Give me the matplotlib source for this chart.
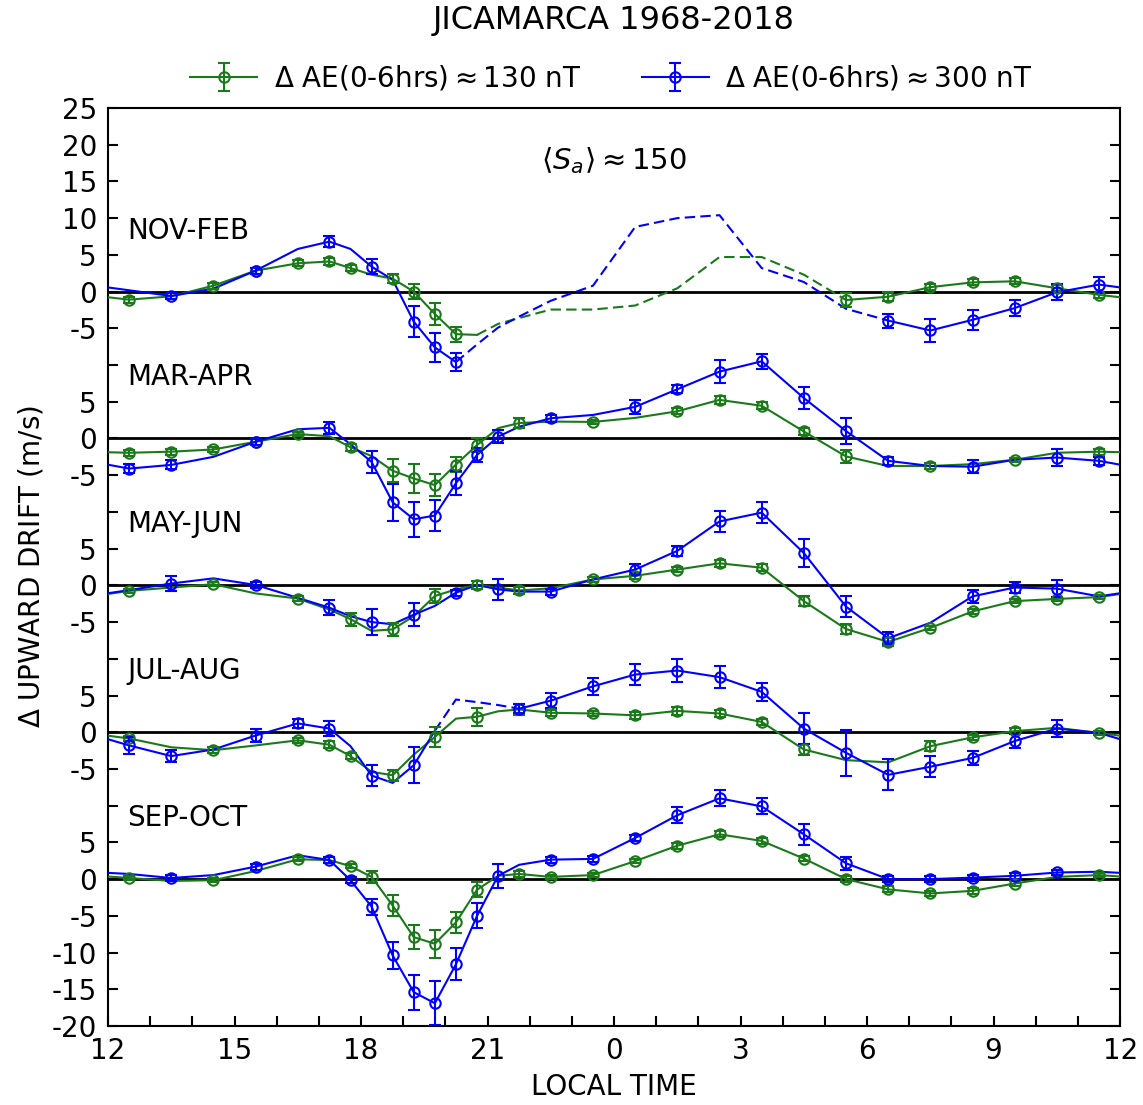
import matplotlib
matplotlib.use("Agg")
import matplotlib.pyplot as plt
import numpy as np

n = np.nan

# Local time of each bin (hours, 12 -> 36 = noon to next noon)
hours = [12.5, 13.5, 14.5, 15.5, 16.5, 17.25, 17.75, 18.25, 18.75, 19.25, 19.75, 20.25,
         20.75, 21.25, 21.75, 22.5, 23.5, 24.5, 25.5, 26.5, 27.5, 28.5, 29.5, 30.5,
         31.5, 32.5, 33.5, 34.5, 35.5]

seasons = ["NOV-FEB", "MAR-APR", "MAY-JUN", "JUL-AUG", "SEP-OCT"]
offsets = [80, 60, 40, 20, 0]

# Delta drift (m/s), green = dAE ~130 nT, blue = dAE ~300 nT. err nan -> no marker
nov_green = [-1.1, -0.65, 0.8, 2.85, 3.85, 4.1, 3.2, 2.3, 1.75, 0.0, -3.05, -5.8, -5.9, -4.4, -3.6,
             -2.45, -2.45, -1.9, 0.45, 4.7, 4.7, 2.3, -1.15, -0.7, 0.6, 1.25, 1.4, 0.45, -0.45]
nov_green_err = [0.4, n, 0.4, 0.4, 0.4, 0.5, 0.4, n, 0.6, 1.05, 1.55, 1.0, n, n, n,
                 n, n, n, n, n, n, n, 0.9, 0.6, 0.4, 0.4, 0.4, 0.4, 0.4]
nov_blue = [n, -0.6, 0.4, 2.85, 5.8, 6.8, 5.8, 3.4, 1.6, -4.1, -7.6, -9.6, -7.2, -4.9, -3.4,
            -1.25, 0.8, 8.8, 10.0, 10.4, 3.2, 1.3, -2.35, -3.95, -5.3, -3.85, -2.25, -0.1, 0.95]
nov_blue_err = [n, 0.4, n, 0.4, n, 0.8, n, 1.0, n, 2.1, 2.0, 1.2, n, n, n,
                n, n, n, n, n, n, n, n, 0.95, 1.5, 1.35, 1.1, 1.1, 1.0]

mar_green = [-1.95, -1.8, -1.5, -0.45, 0.6, 0.3, -1.2, -2.4, -4.4, -5.45, -6.35, -3.55, -0.9, 1.4, 2.1,
             2.3, 2.25, 2.8, 3.7, 5.25, 4.45, 0.95, -2.45, -3.75, -3.75, -3.5, -2.9, -1.95, -1.8]
mar_green_err = [0.4, 0.4, 0.3, 0.4, 0.3, n, 0.5, n, 1.55, 2.0, 1.55, 1.0, 0.9, n, 0.7,
                 n, 0.3, n, 0.4, 0.5, 0.5, 0.5, 0.9, n, 0.4, n, 0.3, n, 0.4]
mar_blue = [-4.1, -3.6, -2.5, -0.45, 1.25, 1.45, -0.8, -3.2, -8.7, -11.0, -10.5, -6.1, -2.25, 0.25, 1.6,
            2.75, 3.2, 4.3, 6.7, 9.1, 10.5, 5.5, 1.0, -3.05, -3.75, -3.85, -2.9, -2.6, -3.05]
mar_blue_err = [0.6, 0.6, n, 0.4, n, 0.8, n, 1.5, 2.5, 2.4, 2.1, 1.6, 1.0, 0.9, n,
                0.5, n, 0.95, 0.55, 1.6, 1.0, 1.5, 1.8, 0.5, n, 0.9, n, 1.2, 0.5]

may_green = [-0.75, -0.3, 0.15, -1.1, -1.8, -3.3, -4.6, -6.2, -6.0, -4.2, -1.45, -0.55, 0.05, -0.3, -0.7,
             -0.4, 0.8, 1.3, 2.15, 3.0, 2.4, -2.15, -5.95, -7.7, -5.8, -3.55, -2.15, -1.85, -1.6]
may_green_err = [0.3, n, 0.3, n, 0.4, n, 0.9, n, 0.9, n, 0.9, n, 0.6, n, 0.5,
                 n, 0.3, 0.4, 0.3, 0.5, 0.5, 0.7, 0.7, 0.5, 0.3, 0.3, 0.3, 0.3, 0.3]
may_blue = [-0.65, 0.25, 0.95, 0.05, -1.7, -3.05, -4.2, -5.0, -5.3, -4.0, -2.8, -1.0, 0.05, -0.55, -0.85,
            -0.85, 0.8, 2.15, 4.7, 8.7, 9.9, 4.4, -2.9, -7.2, -5.1, -1.5, -0.3, -0.45, -1.5]
may_blue_err = [n, 1.0, n, 0.4, n, 1.0, n, 1.8, n, 1.6, n, 0.4, n, 1.4, n,
                0.4, n, 0.7, 0.65, 1.4, 1.4, 1.85, 1.45, 0.8, n, 0.9, 0.75, 1.2, n]

jul_green = [-0.85, -2.05, -2.45, -1.8, -1.1, -1.7, -3.25, -5.4, -5.85, -3.05, -0.65, 1.85, 2.1, 2.85, 3.1,
             2.65, 2.55, 2.3, 2.9, 2.55, 1.4, -2.35, -3.8, -4.1, -1.9, -0.7, 0.15, 0.6, -0.1]
jul_green_err = [0.3, n, 0.4, n, 0.3, 0.5, 0.4, n, 0.75, n, 1.3, n, 1.2, n, 0.7,
                 0.4, 0.4, 0.5, 0.5, 0.5, 0.4, 0.8, n, n, 0.7, 0.3, 0.4, n, 0.3]
jul_blue = [-1.8, -3.25, -2.35, -0.45, 1.2, 0.5, -1.9, -5.9, -6.9, -4.5, 0.2, 4.45, 4.1, 3.7, 3.2,
            4.3, 6.25, 7.85, 8.4, 7.5, 5.5, 0.5, -2.8, -5.8, -4.7, -3.5, -1.2, 0.5, -0.1]
jul_blue_err = [1.2, 0.8, n, 0.9, 0.65, 1.0, n, 1.45, n, 2.45, n, n, n, n, 0.6,
                1.0, 1.2, 1.45, 1.6, 1.45, 1.2, 2.05, 3.1, 2.1, 1.45, 1.0, 1.0, 1.2, n]

sep_green = [0.15, -0.25, -0.15, 1.1, 2.7, 2.6, 1.75, 0.3, -3.6, -7.9, -8.8, -5.9, -1.45, 0.45, 0.7,
             0.3, 0.55, 2.45, 4.55, 6.1, 5.2, 2.8, 0.0, -1.4, -1.95, -1.6, -0.6, 0.3, 0.55]
sep_green_err = [0.3, n, 0.3, n, 0.3, n, 0.3, 0.8, 1.45, 1.6, 1.9, 1.45, 1.0, n, 0.4,
                 0.3, 0.3, 0.3, 0.4, 0.4, 0.4, 0.4, 0.4, 0.4, 0.3, 0.4, 0.3, n, 0.3]
sep_blue = [0.7, 0.15, 0.55, 1.7, 3.25, 2.6, -0.15, -3.75, -10.4, -15.4, -16.9, -11.6, -5.0, 0.45, 1.95,
            2.65, 2.75, 5.6, 8.7, 11.0, 9.9, 6.1, 2.15, 0.0, 0.0, 0.2, 0.45, 0.9, 1.0]
sep_blue_err = [n, 0.4, n, 0.4, n, 0.4, 0.4, 1.1, 1.85, 2.4, 3.0, 2.2, 1.7, 1.6, n,
                0.4, 0.4, 0.4, 1.1, 1.1, 1.1, 1.4, 0.9, 0.4, 0.4, 0.4, 0.4, 0.4, n]

green_data = [(nov_green, nov_green_err), (mar_green, mar_green_err), (may_green, may_green_err),
              (jul_green, jul_green_err), (sep_green, sep_green_err)]
blue_data = [(nov_blue, nov_blue_err), (mar_blue, mar_blue_err), (may_blue, may_blue_err),
             (jul_blue, jul_blue_err), (sep_blue, sep_blue_err)]

# Intervals with no data (drawn dashed)
green_gaps = [(20.75, 29.5), None, None, None, None]
blue_gaps = [(20.25, 30.5), None, None, (19.75, 21.75), None]

GREEN = "#1a7a1a"
BLUE = "#0000ff"

plt.rcParams["font.size"] = 20
plt.rcParams["axes.unicode_minus"] = False


def plot_series(vals, errs, offset, color, gap):
    t = np.array(hours)
    v = np.array(vals) + offset
    e = np.array(errs)
    ok = ~np.isnan(v)
    tt, vv = t[ok], v[ok]
    # local time is periodic: wrap the curve round the edges
    tt = np.concatenate([[tt[-1] - 24], tt, [tt[0] + 24]])
    vv = np.concatenate([[vv[-1]], vv, [vv[0]]])
    if gap is None:
        plt.plot(tt, vv, "-", color=color, lw=1.5, zorder=3)
    else:
        inside = (tt > gap[0]) & (tt < gap[1])
        plt.plot(tt, np.where(inside, np.nan, vv), "-", color=color, lw=1.5, zorder=3)
        sel = (tt >= gap[0]) & (tt <= gap[1])
        plt.plot(tt[sel], vv[sel], color=color, lw=1.5, dashes=(5, 2.5), zorder=3)
    m = ~np.isnan(e)
    plt.errorbar(t[m], v[m], yerr=e[m], fmt="o", color=color, mfc="none", ms=7.5, mew=1.5,
                 elinewidth=1.5, capsize=4, capthick=1.5, zorder=4)


fig = plt.figure(figsize=(11.43, 11.05), dpi=100)
ax = fig.add_axes([0.0945, 0.0715, 0.8855, 0.8308])

for k in range(len(seasons)):
    off = offsets[k]
    plt.axhline(off, color="black", lw=2, zorder=2)
    plot_series(green_data[k][0], green_data[k][1], off, GREEN, green_gaps[k])
    plot_series(blue_data[k][0], blue_data[k][1], off, BLUE, blue_gaps[k])
    plt.text(12.45, off + 8.3, seasons[k], ha="left", va="center", fontsize=20)

plt.text(0.5, 0.943, r"$\langle S_a\rangle \approx 150$", transform=ax.transAxes,
         ha="center", va="center", fontsize=21)

# Legend handles (line + marker + error bar)
h1 = plt.errorbar([np.nan], [np.nan], yerr=[1], fmt="-o", color=GREEN, mfc="none", ms=7.5, mew=1.5,
                  lw=1.5, elinewidth=1.5, capsize=4, capthick=1.5)
h2 = plt.errorbar([np.nan], [np.nan], yerr=[1], fmt="-o", color=BLUE, mfc="none", ms=7.5, mew=1.5,
                  lw=1.5, elinewidth=1.5, capsize=4, capthick=1.5)
fig.legend([h1, h2], [r"$\Delta$ AE(0-6hrs)$\approx$130 nT", r"$\Delta$ AE(0-6hrs)$\approx$300 nT"],
           loc="center", bbox_to_anchor=(0.535, 0.929), ncol=2, frameon=False,
           handlelength=2.4, handletextpad=0.6, columnspacing=2.2, fontsize=20)

fig.text(0.537, 0.981, "JICAMARCA 1968-2018", ha="center", va="center", fontsize=23)

# Axes
plt.xlim(12, 36)
plt.ylim(-20, 105)
xt = np.arange(12, 37, 1)
xt_labels = []
for x in xt:
    if x % 3 == 0:
        xt_labels.append(str(int(x) % 24) if x not in (12, 36) else "12")
    else:
        xt_labels.append("")
plt.xticks(xt, xt_labels)

# y tick labels are relative to each season's zero line
yt = np.arange(-20, 106, 5)
yt_labels = []
for y in yt:
    lab = ""
    for k, off in enumerate(offsets):
        lo = -20 if k == len(offsets) - 1 else -5
        hi = 25 if k == 0 else 5
        if lo <= y - off <= hi:
            lab = str(int(y - off))
    yt_labels.append(lab)
plt.yticks(yt, yt_labels)

ax.tick_params(direction="in", length=7, width=1.5, top=False, right=True, pad=8)
for s in ax.spines.values():
    s.set_linewidth(1.5)

plt.xlabel("LOCAL TIME", fontsize=20, labelpad=6)
plt.ylabel(r"$\Delta$ UPWARD DRIFT (m/s)", fontsize=20, labelpad=4)

plt.savefig("out.png", dpi=100)
